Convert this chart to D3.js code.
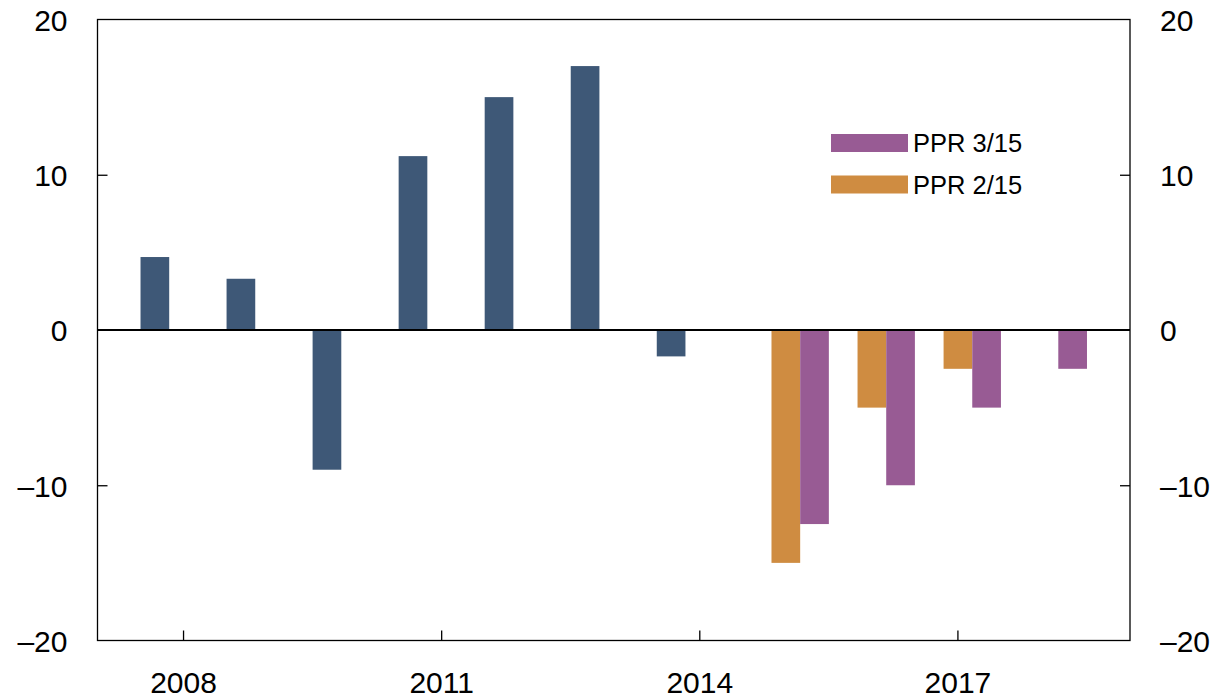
<!DOCTYPE html>
<html>
<head>
    <meta charset="utf-8">
    <script type="text/javascript" src="https://d3js.org/d3.v7.min.js"></script>
    <style>
        body {
            background: #ffffff;
            margin: 0;
            padding: 0;
        }
        text {
            font-family: "Liberation Sans", Arial, sans-serif;
            fill: #000;
        }
        .axis-label { font-size: 30px; }
        .legend-label { font-size: 25.5px; }
    </style>
</head>
<body>
    <div id="chart"></div>
    <script>
        // data
        var years = ["2008", "2009", "2010", "2011", "2012", "2013", "2014", "2015", "2016", "2017", "2018"];
        var seriesKeys = ["actual", "ppr215", "ppr315"];
        var actual = [4.7, 3.3, -9, 11.2, 15, 17, -1.7, null, null, null, null];
        var ppr215 = [null, null, null, null, null, null, null, -15, -5, -2.5, null];
        var ppr315 = [null, null, null, null, null, null, null, -12.5, -10, -5, -2.5];
        var xTickLabels = ["2008", "2011", "2014", "2017"];
        var yTicks = [-20, -10, 0, 10, 20];
        var legendNames = ["PPR 3/15", "PPR 2/15"];

        var colors = { actual: "#3e5877", ppr215: "#cf8c41", ppr315: "#985b94" };
        var values = { actual: actual, ppr215: ppr215, ppr315: ppr315 };

        var width = 1221, height = 700;
        var margin = { top: 19.5, left: 97.5, right: 91, bottom: 59.5 };
        var innerW = width - margin.left - margin.right,
            innerH = height - margin.top - margin.bottom;

        var svg = d3.select("#chart")
            .append("svg")
            .attr("width", width)
            .attr("height", height);

        var g = svg.append("g")
            .attr("transform", "translate(" + margin.left + "," + margin.top + ")");

        var x = d3.scaleBand()
            .domain(years)
            .range([0, innerW])
            .paddingInner(0)
            .paddingOuter(0.5);

        var x1 = d3.scaleBand()
            .domain(seriesKeys)
            .range([0, x.bandwidth()])
            .padding(0);

        var y = d3.scaleLinear()
            .domain([-20, 20])
            .range([innerH, 0]);

        // bars
        var rows = [];
        years.forEach(function(yr, i) {
            seriesKeys.forEach(function(k) {
                var v = values[k][i];
                if (v !== null) rows.push({ year: yr, key: k, value: v });
            });
        });

        g.selectAll("rect.bar")
            .data(rows)
            .enter().append("rect")
            .attr("class", "bar")
            .attr("x", function(d) { return x(d.year) + x1(d.key); })
            .attr("width", x1.bandwidth())
            .attr("y", function(d) { return y(Math.max(0, d.value)); })
            .attr("height", function(d) { return Math.abs(y(d.value) - y(0)); })
            .attr("fill", function(d) { return colors[d.key]; });

        // zero line
        g.append("line")
            .attr("x1", 0).attr("x2", innerW)
            .attr("y1", y(0)).attr("y2", y(0))
            .attr("stroke", "#000").attr("stroke-width", 2);

        // frame
        g.append("rect")
            .attr("x", 0).attr("y", 0)
            .attr("width", innerW).attr("height", innerH)
            .attr("fill", "none")
            .attr("stroke", "#000").attr("stroke-width", 1.3);

        var fmt = function(d) { return d < 0 ? "\u2013" + Math.abs(d) : d; };

        // left axis
        var yLeft = d3.axisLeft(y).tickValues(yTicks).tickSize(-10).tickPadding(30).tickFormat(fmt);
        var gl = g.append("g").call(yLeft);
        gl.select(".domain").remove();
        gl.selectAll(".tick line").attr("stroke", "#000").attr("stroke-width", 1.3)
            .filter(function(d) { return d === 20 || d === -20 || d === 0; }).remove();
        gl.selectAll(".tick text").attr("class", "axis-label").attr("dy", "0.36em");
        gl.attr("font-size", null).attr("font-family", null);

        // right axis
        var yRight = d3.axisRight(y).tickValues(yTicks).tickSize(-10).tickPadding(30).tickFormat(fmt);
        var gr = g.append("g").attr("transform", "translate(" + innerW + ",0)").call(yRight);
        gr.select(".domain").remove();
        gr.selectAll(".tick line").attr("stroke", "#000").attr("stroke-width", 1.3)
            .filter(function(d) { return d === 20 || d === -20 || d === 0; }).remove();
        gr.selectAll(".tick text").attr("class", "axis-label").attr("dy", "0.36em");
        gr.attr("font-size", null).attr("font-family", null);

        // bottom axis
        var xAxis = d3.axisBottom(x).tickValues(xTickLabels).tickSize(-10).tickPadding(31);
        var gb = g.append("g").attr("transform", "translate(0," + innerH + ")").call(xAxis);
        gb.select(".domain").remove();
        gb.selectAll(".tick line").attr("stroke", "#000").attr("stroke-width", 1.3);
        gb.selectAll(".tick text").attr("class", "axis-label").attr("dy", "0.71em");
        gb.attr("font-size", null).attr("font-family", null);

        // legend
        var legendKeys = ["ppr315", "ppr215"];
        var legend = svg.append("g").attr("transform", "translate(831,134)");
        legendKeys.forEach(function(k, i) {
            var row = legend.append("g").attr("transform", "translate(0," + (i * 41.5) + ")");
            row.append("rect")
                .attr("width", 77).attr("height", 18)
                .attr("fill", colors[k]);
            row.append("text")
                .attr("class", "legend-label")
                .attr("x", 82).attr("y", 18)
                .text(legendNames[i]);
        });
    </script>
</body>
</html>
